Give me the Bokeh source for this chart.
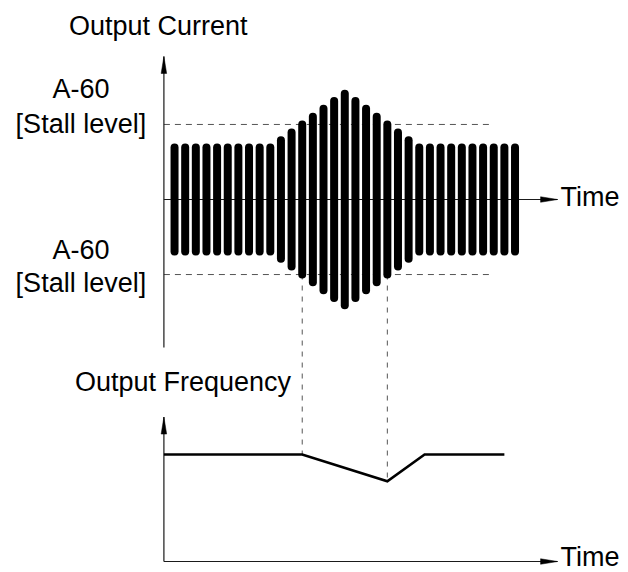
from bokeh.plotting import figure
from bokeh.models import Range1d
from bokeh.embed import file_html
from bokeh.resources import INLINE
from bokeh.core.properties import value

# ---------------- data ----------------
bar_times = [1, 2, 3, 4, 5, 6, 7, 8, 9, 10, 11, 12, 13, 14, 15, 16, 17,
             18, 19, 20, 21, 22, 23, 24, 25, 26, 27, 28, 29, 30, 31, 32, 33]
bar_amplitude = [1.0, 1.0, 1.0, 1.0, 1.0, 1.0, 1.0, 1.0, 1.0, 1.0,
                 1.13, 1.27, 1.41, 1.55, 1.69, 1.83, 1.96, 1.83, 1.69, 1.55,
                 1.41, 1.27, 1.13,
                 1.0, 1.0, 1.0, 1.0, 1.0, 1.0, 1.0, 1.0, 1.0, 1.0]
stall_level = 1.34
stall_line_end = 31.0
freq_times = [0, 13, 21, 24.5, 32]
freq_values = [1.0, 1.0, 0.75, 1.0, 1.0]
stall_times = [13, 21]          # where the stall starts / ends
stall_freq = [1.0, 0.75]        # output frequency at those moments

label_current = "Output Current"
label_freq = "Output Frequency"
label_time = "Time"
label_param = "A-60"
label_stall = "[Stall level]"

# ---------------- layout (pixels) ----------------
W, H = 628, 572
T0_PX = 163.4          # canvas x of time 0
PX_PER_T = 10.64
CUR0_PX = 199.0        # canvas y of current 0
PX_PER_CUR = 56.0
FREQ0_PX = 561.0       # canvas y of frequency 0
PX_PER_FREQ = 107.0

TIME_AXIS_END = 37.0
CUR_AXIS_TOP = 2.554
CUR_AXIS_BOTTOM = -2.643
FREQ_AXIS_TOP = 1.35
TXT_SHIFT = -9         # baseline correction for text placement

x_range = Range1d(-T0_PX / PX_PER_T, (W - T0_PX) / PX_PER_T)
y_range = Range1d((CUR0_PX - H) / PX_PER_CUR, CUR0_PX / PX_PER_CUR)
freq_range = Range1d((FREQ0_PX - H) / PX_PER_FREQ, FREQ0_PX / PX_PER_FREQ)

p = figure(width=W, height=H, x_range=x_range, y_range=y_range,
           output_backend="svg", toolbar_location=None,
           x_axis_type=None, y_axis_type=None, min_border=0,
           outline_line_color=None, background_fill_color="white",
           border_fill_color="white")
p.extra_y_ranges = {"freq": freq_range}
p.grid.visible = False

FONT = value("Liberation Sans")
FS = value("27px")
AX_COLOR = "#1a1a1a"
DASH_COLOR = "#555555"

# stall level dashed lines
p.segment(x0=[0, 0], y0=[stall_level, -stall_level],
          x1=[stall_line_end, stall_line_end], y1=[stall_level, -stall_level],
          line_color=DASH_COLOR, line_width=1, line_dash="6 5")

# vertical dashed connectors (from lower stall line down to frequency curve)
top_in_freq = (FREQ0_PX - (CUR0_PX + stall_level * PX_PER_CUR)) / PX_PER_FREQ
p.segment(x0=stall_times, y0=[top_in_freq] * len(stall_times),
          x1=stall_times, y1=stall_freq, y_range_name="freq",
          line_color=DASH_COLOR, line_width=1, line_dash="5 6")

# axes of the current panel
p.line([0, 0], [CUR_AXIS_BOTTOM, CUR_AXIS_TOP], line_color=AX_COLOR, line_width=1.2)
p.line([0, TIME_AXIS_END], [0, 0], line_color=AX_COLOR, line_width=1.2)
# axes of the frequency panel
p.line([0, 0], [0, FREQ_AXIS_TOP], y_range_name="freq", line_color=AX_COLOR, line_width=1.2)
p.line([0, TIME_AXIS_END], [0, 0], y_range_name="freq", line_color=AX_COLOR, line_width=1.2)

# arrow heads (narrow triangles, sized in pixels)
HL, HW = 17.0, 5.5


def up_head(tip, ppy, rn):
    dx = HW / 2 / PX_PER_T
    dy = HL / ppy
    kw = {} if rn is None else {"y_range_name": rn}
    p.patch([0, -dx, dx], [tip, tip - dy, tip - dy], fill_color="black",
            line_color="black", line_width=0.5, **kw)


def right_head(ppy, rn):
    dx = HL / PX_PER_T
    dy = HW / 2 / ppy
    kw = {} if rn is None else {"y_range_name": rn}
    p.patch([TIME_AXIS_END, TIME_AXIS_END - dx, TIME_AXIS_END - dx], [0, dy, -dy],
            fill_color="black", line_color="black", line_width=0.5, **kw)


up_head(CUR_AXIS_TOP, PX_PER_CUR, None)
right_head(PX_PER_CUR, None)
up_head(FREQ_AXIS_TOP, PX_PER_FREQ, "freq")
right_head(PX_PER_FREQ, "freq")

# current bars (capsules)
BAR_W = 8
cap = (BAR_W / 2) / PX_PER_CUR
p.segment(x0=bar_times, y0=[-(a - cap) for a in bar_amplitude],
          x1=bar_times, y1=[a - cap for a in bar_amplitude],
          line_color="black", line_width=BAR_W, line_cap="round")

# frequency curve
p.line(freq_times, freq_values, y_range_name="freq",
       line_color="black", line_width=2.6, line_join="miter")

# texts
common = dict(text_font=FONT, text_font_size=FS, text_color="black",
              text_baseline="alphabetic")
p.text(x=[0], y=[CUR_AXIS_TOP], text=[label_current], x_offset=-95,
       y_offset=-21 + TXT_SHIFT, text_align="left", **common)
p.text(x=[0, 0], y=[stall_level, stall_level], text=[label_param, label_stall],
       x_offset=-83, y_offset=[-26 + TXT_SHIFT, 9 + TXT_SHIFT],
       text_align="center", **common)
p.text(x=[0, 0], y=[-stall_level, -stall_level], text=[label_param, label_stall],
       x_offset=-83, y_offset=[-16 + TXT_SHIFT, 17 + TXT_SHIFT],
       text_align="center", **common)
p.text(x=[TIME_AXIS_END], y=[0], text=[label_time], x_offset=3,
       y_offset=6 + TXT_SHIFT, text_align="left", **common)
p.text(x=[0], y=[FREQ_AXIS_TOP], text=[label_freq], x_offset=-89,
       y_offset=-26.5 + TXT_SHIFT, y_range_name="freq", text_align="left", **common)
p.text(x=[TIME_AXIS_END], y=[0], text=[label_time], x_offset=3,
       y_offset=4 + TXT_SHIFT, y_range_name="freq", text_align="left", **common)

open("out.html", "w").write(file_html(p, INLINE))
